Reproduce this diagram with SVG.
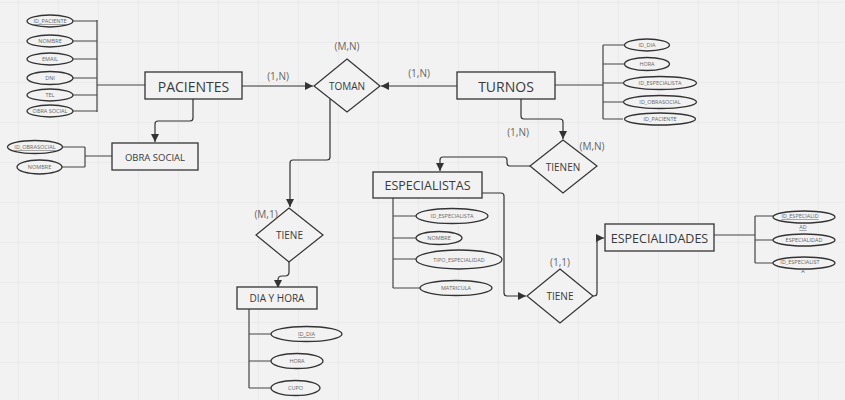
<svg xmlns="http://www.w3.org/2000/svg" width="845" height="400" viewBox="0 0 845 400">
<defs>
<pattern id="grid" x="18" y="2" width="40" height="40" patternUnits="userSpaceOnUse">
<path d="M0,0 H40 M0,0 V40" fill="none" stroke="#e3e3e3" stroke-width="1.2"/>
</pattern>
<marker id="arr" viewBox="0 0 8 8" refX="8" refY="4" markerWidth="8" markerHeight="8" markerUnits="userSpaceOnUse" orient="auto">
<path d="M0,0 L8,4 L0,8 z" fill="#333"/>
</marker>
<style>
.box{fill:#f2f2f2;stroke:#333;stroke-width:1.3}
.dia{fill:#f2f2f2;stroke:#333;stroke-width:1.2}
.att{fill:#f2f2f2;stroke:#333;stroke-width:1.3}
.ln{fill:none;stroke:#444;stroke-width:1.2}
.ar{fill:none;stroke:#333;stroke-width:1.2;marker-end:url(#arr)}
text{font-family:"Open Sans","Liberation Sans",sans-serif;text-anchor:middle;dominant-baseline:central}
.t{fill:#3a3a3a}
.lab{fill:#666;font-size:10px}
.a{fill:#666;font-size:5.5px}
.k{text-decoration:underline}
</style>
</defs>
<rect width="845" height="400" fill="#f2f2f2"/>
<rect width="845" height="400" fill="url(#grid)"/>

<g id="connectors">
<path class="ln" d="M73,21 H97 M73,41 H97 M73,59 H97 M73,78 H97 M73,95 H97 M73,111 H97 M97,20 V112 M97,85 H145"/>
<path class="ar" d="M242,86 H313"/>
<path class="ar" d="M457,86 H381"/>
<path class="ar" d="M193,99 V118 Q193,121 190,121 H158 Q155,121 155,124 V142"/>
<path class="ln" d="M62,147 H85 M62,167 H85 M85,147 V167 M85,156 H112"/>
<path class="ln" d="M555,85 H603 M603,45 V119 M603,45 H625 M603,64 H625 M603,83 H623 M603,102 H623 M603,119 H623"/>
<path class="ar" d="M521,99 V116 Q521,119 524,119 H560 Q563,119 563,122 V139"/>
<path class="ar" d="M530,166 H510 Q507,166 507,163 V160 Q507,157 504,157 H443 Q440,157 440,160 V171"/>
<path class="ln" d="M393,198 V288 M393,216 H416 M393,238 H416 M393,259 H416 M393,288 H420"/>
<path class="ar" d="M482,193 H501 Q504,193 504,196 V293 Q504,296 507,296 H526"/>
<path class="ar" d="M593,296 H594 Q597,296 597,293 V241 Q597,238 600,238 H604"/>
<path class="ln" d="M714,235 H755 M755,216 V263 M755,216 H773 M755,240 H773 M755,263 H773"/>
<path class="ar" d="M330,99 V157 Q330,160 327,160 H293 Q290,160 290,163 V207"/>
<path class="ar" d="M289,262 V272 Q289,276 285,276 H282 Q278,276 278,280 V288"/>
<path class="ln" d="M249,309 V388 M249,334 H271 M249,361 H271 M249,388 H271"/>
</g>

<g id="pacientes">
<rect class="box" x="145" y="72" width="97" height="27"/>
<text class="t" x="193.5" y="86" font-size="14">PACIENTES</text>
</g>
<g id="pac-attrs">
<ellipse class="att" cx="50" cy="21" rx="23" ry="6"/><text class="a k" x="50" y="21">ID_PACIENTE</text>
<ellipse class="att" cx="50" cy="41" rx="23" ry="6"/><text class="a" x="50" y="41">NOMBRE</text>
<ellipse class="att" cx="50" cy="59" rx="23" ry="6"/><text class="a" x="50" y="59">EMAIL</text>
<ellipse class="att" cx="50" cy="78" rx="23" ry="6.5"/><text class="a" x="50" y="78">DNI</text>
<ellipse class="att" cx="50" cy="95" rx="23" ry="6"/><text class="a" x="50" y="95">TEL</text>
<ellipse class="att" cx="50" cy="111" rx="23" ry="6"/><text class="a" x="50" y="111" font-size="5">OBRA SOCIAL</text>
</g>

<g id="obra-social">
<rect class="box" x="112" y="143" width="86" height="27"/>
<text class="t" x="155" y="157" font-size="9.5">OBRA SOCIAL</text>
</g>
<g id="obra-attrs">
<ellipse class="att" cx="35" cy="147" rx="27.5" ry="6.5"/><text class="a k" x="35" y="147" font-size="5">ID_OBRASOCIAL</text>
<ellipse class="att" cx="39.5" cy="167" rx="22.5" ry="7"/><text class="a" x="39.5" y="167">NOMBRE</text>
</g>

<g id="toman">
<polygon class="dia" points="347,59 380,86 347,112 314,86"/>
<text class="t" x="347" y="86" font-size="10">TOMAN</text>
<text class="lab" x="347" y="46">(M,N)</text>
<text class="lab" x="278" y="76">(1,N)</text>
<text class="lab" x="419" y="73">(1,N)</text>
</g>

<g id="turnos">
<rect class="box" x="457" y="72" width="98" height="27"/>
<text class="t" x="506" y="86" font-size="14">TURNOS</text>
</g>
<g id="turnos-attrs">
<ellipse class="att" cx="647" cy="45" rx="22.5" ry="6"/><text class="a" x="647" y="45">ID_DIA</text>
<ellipse class="att" cx="647" cy="64" rx="22.5" ry="6.5"/><text class="a" x="647" y="64">HORA</text>
<ellipse class="att" cx="660" cy="83" rx="36.5" ry="6.5"/><text class="a" x="660" y="83">ID_ESPECIALISTA</text>
<ellipse class="att" cx="660" cy="102" rx="36.5" ry="6.5"/><text class="a" x="660" y="102">ID_OBRASOCIAL</text>
<ellipse class="att" cx="660" cy="119" rx="35.5" ry="6"/><text class="a" x="660" y="119">ID_PACIENTE</text>
</g>

<g id="tienen">
<polygon class="dia" points="563,140 597,166 563,193 530,166"/>
<text class="t" x="563" y="167" font-size="10">TIENEN</text>
<text class="lab" x="518" y="132">(1,N)</text>
<text class="lab" x="592" y="146">(M,N)</text>
</g>

<g id="especialistas">
<rect class="box" x="373" y="172" width="109" height="26"/>
<text class="t" x="427.5" y="185" font-size="12.5">ESPECIALISTAS</text>
</g>
<g id="especialistas-attrs">
<ellipse class="att" cx="452" cy="216" rx="36" ry="7.5"/><text class="a" x="452" y="216">ID_ESPECIALISTA</text>
<ellipse class="att" cx="439" cy="238" rx="23" ry="6.5"/><text class="a" x="439" y="238">NOMBRE</text>
<ellipse class="att" cx="459" cy="259.5" rx="43" ry="9.5"/><text class="a" x="459" y="259.5">TIPO_ESPECIALIDAD</text>
<ellipse class="att" cx="456" cy="288" rx="36" ry="7.5"/><text class="a" x="456" y="288">MATRICULA</text>
</g>

<g id="tiene-esp">
<polygon class="dia" points="560,269 593,296 560,323 527,296"/>
<text class="t" x="560" y="296" font-size="10">TIENE</text>
<text class="lab" x="560" y="262">(1,1)</text>
</g>

<g id="especialidades">
<rect class="box" x="605" y="224" width="109" height="27"/>
<text class="t" x="659.5" y="238" font-size="12.5">ESPECIALIDADES</text>
</g>
<g id="especialidades-attrs">
<ellipse class="att" cx="804" cy="217" rx="31" ry="6"/>
<text class="a k" x="800" y="216" font-size="5">ID_ESPECIALID</text>
<text class="a k" x="803" y="227" font-size="5">AD</text>
<ellipse class="att" cx="804" cy="240" rx="31" ry="6"/><text class="a" x="804" y="240" font-size="5">ESPECIALIDAD</text>
<ellipse class="att" cx="804" cy="263" rx="31" ry="6"/>
<text class="a" x="800" y="262" font-size="5">ID_ESPECIALIST</text>
<text class="a" x="803" y="271" font-size="5">A</text>
</g>

<g id="tiene-dia">
<polygon class="dia" points="289,208 323,235 289,262 256,235"/>
<text class="t" x="289.5" y="235" font-size="10">TIENE</text>
<text class="lab" x="266" y="214">(M,1)</text>
</g>

<g id="dia-hora">
<rect class="box" x="237" y="287" width="80" height="22"/>
<text class="t" x="277" y="298" font-size="10">DIA Y HORA</text>
</g>
<g id="dia-hora-attrs">
<ellipse class="att" cx="306.5" cy="334" rx="35.5" ry="7.5"/><text class="a k" x="306.5" y="334">ID_DIA</text>
<ellipse class="att" cx="297" cy="361" rx="26" ry="7.5"/><text class="a" x="297" y="361">HORA</text>
<ellipse class="att" cx="295.5" cy="388" rx="24.5" ry="7.5"/><text class="a" x="295.5" y="388">CUPO</text>
</g>
</svg>
